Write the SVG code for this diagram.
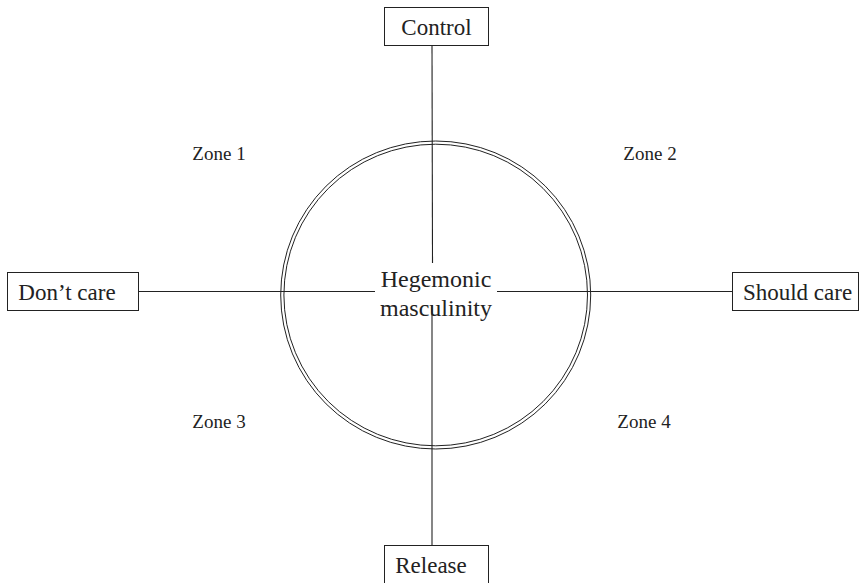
<svg xmlns="http://www.w3.org/2000/svg" width="864" height="583" viewBox="0 0 864 583">
<style>
.box{fill:#fff;stroke:#222;stroke-width:1}
.ln{stroke:#222;stroke-width:1.1;fill:none}
.t{font-family:"Liberation Serif","Times New Roman",serif;fill:#222}
.bt{font-size:23px;text-anchor:middle}
.zt{font-size:19px;text-anchor:middle}
.ct{font-size:24px;text-anchor:middle}
</style>
<rect width="864" height="583" fill="#fff"/>
<g id="connectors">
<line class="ln" x1="432" y1="45" x2="432.5" y2="263"/>
<line class="ln" x1="432" y1="305" x2="432" y2="545"/>
<line class="ln" x1="138" y1="291.5" x2="375" y2="291.5"/>
<line class="ln" x1="497" y1="291.5" x2="732" y2="291.5"/>
</g>
<g id="circle">
<ellipse cx="435.7" cy="295" rx="155" ry="154" fill="none" stroke="#222" stroke-width="1"/>
<ellipse cx="435.7" cy="295" rx="151.8" ry="150.8" fill="none" stroke="#222" stroke-width="1"/>
</g>
<g id="hegemonic">
<text class="t ct" x="436" y="287">Hegemonic</text>
<text class="t ct" x="436" y="316">masculinity</text>
</g>
<g id="control">
<rect class="box" x="384.5" y="7.5" width="104" height="38"/>
<text class="t bt" x="436.5" y="35">Control</text>
</g>
<g id="dontcare">
<rect class="box" x="7.5" y="272.5" width="131" height="38"/>
<text class="t bt" x="67" y="300">Don’t care</text>
</g>
<g id="shouldcare">
<rect class="box" x="732.5" y="272.5" width="126" height="38"/>
<text class="t bt" x="797.5" y="300">Should care</text>
</g>
<g id="release">
<rect class="box" x="384.5" y="545.5" width="104" height="38"/>
<text class="t bt" x="431" y="573">Release</text>
</g>
<g id="zone1"><text class="t zt" x="219" y="160">Zone 1</text></g>
<g id="zone2"><text class="t zt" x="650" y="160">Zone 2</text></g>
<g id="zone3"><text class="t zt" x="219" y="428">Zone 3</text></g>
<g id="zone4"><text class="t zt" x="644" y="428">Zone 4</text></g>
</svg>
